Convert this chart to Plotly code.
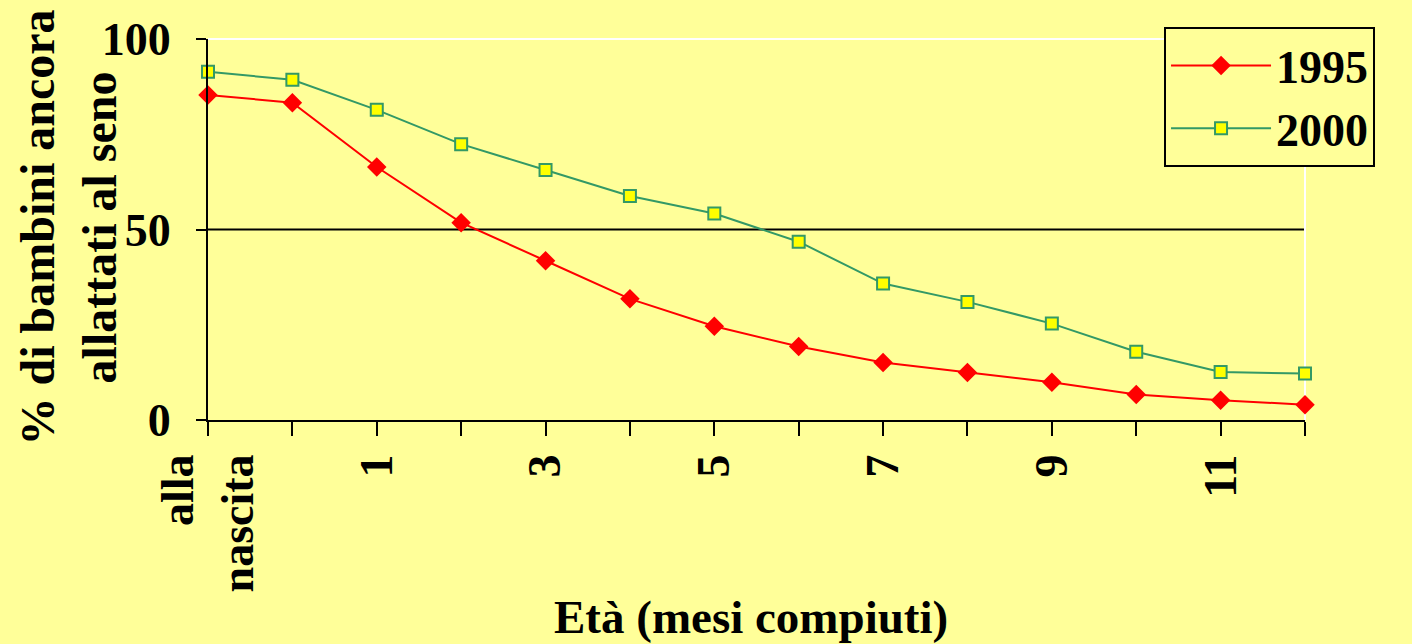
import plotly.graph_objects as go

categories = ["alla nascita", "0", "1", "2", "3", "4", "5", "6", "7", "8", "9", "10", "11", "12"]
tick_text = ["alla<br>nascita", "", "1", "", "3", "", "5", "", "7", "", "9", "", "11", ""]
y1995 = [85.3, 83.3, 66.4, 51.8, 41.8, 31.8, 24.6, 19.3, 15.1, 12.5, 9.9, 6.7, 5.2, 4.0]
y2000 = [91.4, 89.3, 81.4, 72.4, 65.6, 58.8, 54.2, 46.8, 35.8, 31.0, 25.3, 17.9, 12.6, 12.2]
y_ticks = [0, 50, 100]

FONT = "Liberation Serif, Times New Roman, serif"
BG = "#FFFF99"

fig = go.Figure()
fig.add_trace(go.Scatter(
    x=categories, y=y1995, name="1995", mode="lines+markers",
    line=dict(color="#FF0000", width=2),
    marker=dict(symbol="diamond", size=15, color="#FF0000", line=dict(width=0)),
    cliponaxis=False,
))
fig.add_trace(go.Scatter(
    x=categories, y=y2000, name="2000", mode="lines+markers",
    line=dict(color="#339966", width=2),
    marker=dict(symbol="square", size=12, color="#FFFF00", line=dict(color="#339966", width=2)),
    cliponaxis=False,
))

fig.update_layout(
    width=1412, height=644,
    margin=dict(l=208, r=107, t=39, b=224, autoexpand=False),
    paper_bgcolor=BG, plot_bgcolor=BG,
    font=dict(family=FONT, size=46, color="black", weight="bold"),
    showlegend=True,
    legend=dict(
        x=0.8715, y=1.0315, xanchor="left", yanchor="top",
        bgcolor=BG, bordercolor="black", borderwidth=2,
        font=dict(family=FONT, size=46, color="black", weight="bold"),
        itemwidth=100, tracegroupgap=0,
    ),
    xaxis=dict(
        type="category", range=[0, 13],
        tickmode="array", tickvals=categories, ticktext=tick_text,
        tickangle=-90, ticks="outside", ticklen=14, tickwidth=2, tickcolor="black",
        showline=True, linecolor="black", linewidth=2,
        showgrid=False, zeroline=False,
        tickfont=dict(family=FONT, size=46, color="black", weight="bold"),
    ),
    yaxis=dict(
        range=[0, 100], tickmode="array", tickvals=y_ticks,
        ticks="outside", ticklen=10, tickwidth=2, tickcolor="black",
        showline=True, linecolor="black", linewidth=2,
        showgrid=False, zeroline=False,
        ticklabelstandoff=16,
        tickfont=dict(family=FONT, size=46, color="black", weight="bold"),
    ),
    shapes=[
        dict(type="line", xref="paper", yref="y", x0=0, x1=1, y0=50, y1=50,
             line=dict(color="black", width=2), layer="below"),
        dict(type="line", xref="paper", yref="paper", x0=0, x1=1, y0=1, y1=1,
             line=dict(color="white", width=2), layer="below"),
        dict(type="line", xref="paper", yref="paper", x0=1, x1=1, y0=0, y1=1,
             line=dict(color="white", width=2), layer="below"),
    ],
    annotations=[
        dict(text="% di bambini ancora<br>allattati al seno", xref="paper", yref="paper",
             x=0, y=0.5, xshift=-140, yshift=2, xanchor="center", yanchor="middle",
             textangle=-90, showarrow=False,
             font=dict(family=FONT, size=48, color="black", weight="bold")),
        dict(text="Età (mesi compiuti)", xref="paper", yref="paper",
             x=0.5, y=-0.517, xshift=-6, xanchor="center", yanchor="middle",
             showarrow=False,
             font=dict(family=FONT, size=47, color="black", weight="bold")),
    ],
)

fig.write_html("out.html")
